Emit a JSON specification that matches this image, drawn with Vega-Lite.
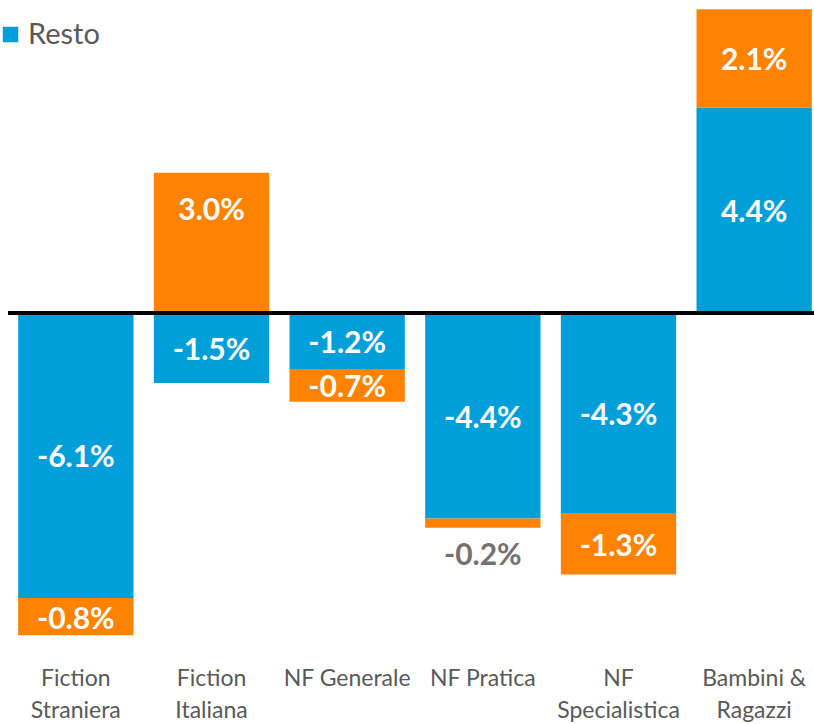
{
  "$schema": "https://vega.github.io/schema/vega-lite/v6.json",
  "width": 814,
  "height": 661,
  "autosize": "none",
  "padding": {"left": 8, "top": 0, "right": 0, "bottom": 63},
  "background": "white",
  "config": {"view": {"stroke": null}, "font": "Lato"},
  "data": {
    "values": [
      {"cat": "Fiction Straniera", "serie": "Resto", "order": 1, "value": -6.1},
      {"cat": "Fiction Straniera", "serie": "Top", "order": 2, "value": -0.8},
      {"cat": "Fiction Italiana", "serie": "Resto", "order": 1, "value": -1.5},
      {"cat": "Fiction Italiana", "serie": "Top", "order": 2, "value": 3.0},
      {"cat": "NF Generale", "serie": "Resto", "order": 1, "value": -1.2},
      {"cat": "NF Generale", "serie": "Top", "order": 2, "value": -0.7},
      {"cat": "NF Pratica", "serie": "Resto", "order": 1, "value": -4.4},
      {"cat": "NF Pratica", "serie": "Top", "order": 2, "value": -0.2},
      {"cat": "NF Specialistica", "serie": "Resto", "order": 1, "value": -4.3},
      {"cat": "NF Specialistica", "serie": "Top", "order": 2, "value": -1.3},
      {"cat": "Bambini & Ragazzi", "serie": "Resto", "order": 1, "value": 4.4},
      {"cat": "Bambini & Ragazzi", "serie": "Top", "order": 2, "value": 2.1}
    ]
  },
  "transform": [
    {"stack": "value", "groupby": ["cat"], "sort": [{"field": "order", "order": "ascending"}], "as": ["v0", "v1"]},
    {"window": [{"op": "sum", "field": "value", "as": "c1"}], "groupby": ["cat"], "sort": [{"field": "order", "order": "ascending"}], "frame": [null, 0]},
    {"calculate": "abs(datum.c1 - datum.v1) > 1e-9 ? (datum.c1 + datum.v1) / 2 : (datum.v0 + datum.v1) / 2", "as": "mid"},
    {"calculate": "replace(format(datum.value, '.1f'), '\u2212', '-') + '%'", "as": "lab"}
  ],
  "layer": [
    {
      "mark": {"type": "bar"},
      "encoding": {
        "x": {
          "field": "cat",
          "type": "nominal",
          "sort": null,
          "scale": {"paddingInner": 0.15, "paddingOuter": 0.075},
          "axis": {
            "title": null,
            "orient": "bottom",
            "domain": false,
            "ticks": false,
            "labelAngle": 0,
            "labelPadding": 6,
            "labelFontSize": 23,
            "labelColor": "#595959",
            "labelFont": "Lato",
            "labelLineHeight": 32,
            "labelBaseline": "top",
            "labelLimit": 200,
            "labelExpr": "datum.label == 'Fiction Straniera' ? ['Fiction','Straniera'] : datum.label == 'Fiction Italiana' ? ['Fiction','Italiana'] : datum.label == 'NF Specialistica' ? ['NF','Specialistica'] : datum.label == 'Bambini & Ragazzi' ? ['Bambini &','Ragazzi'] : datum.label"
          }
        },
        "y": {"field": "v0", "type": "quantitative", "scale": {"domain": [-7.45, 6.7], "nice": false, "zero": false}, "axis": null},
        "y2": {"field": "v1"},
        "color": {
          "field": "serie",
          "type": "nominal",
          "scale": {"domain": ["Top", "Resto"], "range": ["#FF8300", "#009FDA"]},
          "legend": {
            "values": ["Resto"],
            "title": null,
            "orient": "none",
            "legendX": -12,
            "legendY": 20,
            "symbolType": "square",
            "symbolSize": 240,
            "symbolStrokeWidth": 0,
            "labelFontSize": 29,
            "labelColor": "#595959",
            "labelOffset": 3,
            "labelFont": "Lato"
          }
        }
      }
    },
    {
      "mark": {"type": "rule", "color": "black", "strokeWidth": 3},
      "encoding": {"y": {"datum": 0}}
    },
    {
      "transform": [{"filter": "abs(datum.value) >= 0.3"}],
      "mark": {"type": "text", "color": "white", "fontWeight": "bold", "fontSize": 30, "baseline": "middle", "align": "center", "dy": 3},
      "encoding": {
        "x": {"field": "cat", "type": "nominal", "sort": null},
        "y": {"field": "mid", "type": "quantitative"},
        "text": {"field": "lab"}
      }
    },
    {
      "transform": [{"filter": "abs(datum.value) < 0.3"}],
      "mark": {"type": "text", "color": "#767171", "fontWeight": "bold", "fontSize": 30, "baseline": "middle", "align": "center", "dy": 28},
      "encoding": {
        "x": {"field": "cat", "type": "nominal", "sort": null},
        "y": {"field": "v1", "type": "quantitative"},
        "text": {"field": "lab"}
      }
    }
  ]
}
